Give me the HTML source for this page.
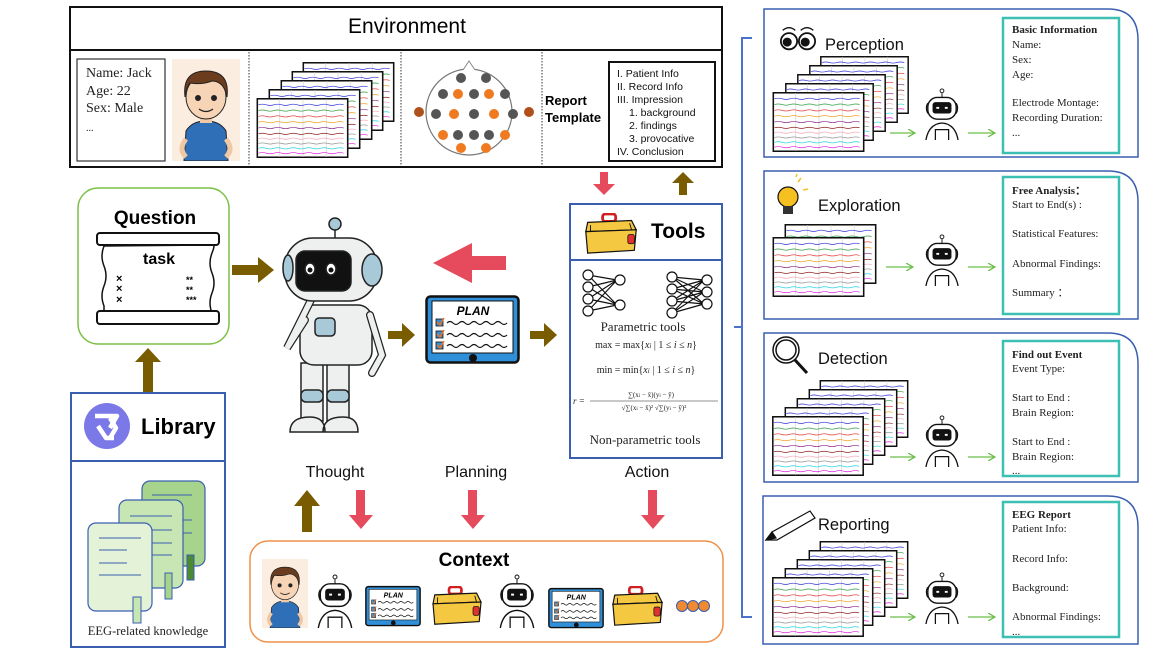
<!DOCTYPE html>
<html><head><meta charset="utf-8"><style>
html,body{margin:0;padding:0;background:#fff}
svg{display:block}
.s{font-family:"Liberation Sans",sans-serif}
.r{font-family:"Liberation Serif",serif}
</style></head><body>
<svg width="1163" height="654" viewBox="0 0 1163 654" xmlns="http://www.w3.org/2000/svg">
<defs>
<g id="wv"><path d="M2,0 q4,-1.2 8,0 t8,0 t8,0 t8,0 t8,0 t8,0 t8,0 t8,0 t8,0 t8,0 t8,0" fill="none" stroke-width="0.7"/></g>
<symbol id="eeg" viewBox="0 0 95 62">
<rect x="0.8" y="0.8" width="93.4" height="60.4" fill="#fff" stroke="#111" stroke-width="1.6"/>
<path d="M24,1V61M48,1V61M72,1V61" stroke="#ccc" stroke-width="0.6"/>
<use href="#wv" y="7" stroke="#2b2bd6"/><use href="#wv" y="13" stroke="#2a9a3a"/><use href="#wv" y="19" stroke="#e02a2a"/><use href="#wv" y="25" stroke="#f0a020"/><use href="#wv" y="31" stroke="#8a2a8a"/><use href="#wv" y="37" stroke="#8b1a1a"/><use href="#wv" y="42" stroke="#f4a0b0"/><use href="#wv" y="47" stroke="#888"/><use href="#wv" y="52" stroke="#20d0e0"/><use href="#wv" y="57" stroke="#e020e0"/>
</symbol>
<symbol id="rob" viewBox="0 0 40 55">
<circle cx="20" cy="3" r="2" fill="#fff" stroke="#111" stroke-width="1"/><path d="M20,5V10" stroke="#111"/>
<rect x="5" y="10" width="30" height="23" rx="10" fill="#fff" stroke="#111" stroke-width="1.5"/>
<path d="M5,16q-3,5 0,11M35,16q3,5 0,11" fill="none" stroke="#111" stroke-width="1.3"/>
<rect x="10" y="15" width="20" height="12" rx="3" fill="#111"/>
<rect x="14" y="20" width="3" height="2" fill="#fff"/><rect x="23" y="20" width="3" height="2" fill="#fff"/>
<path d="M3,55Q6,38 20,37Q34,38 37,55" fill="none" stroke="#111" stroke-width="1.4"/>
<path d="M13,55V44H27V55" fill="none" stroke="#111" stroke-width="1.3"/>
</symbol>
<symbol id="plan" viewBox="0 0 95 72">
<rect x="1.5" y="1.5" width="92" height="66" rx="4" fill="#2f8fd8" stroke="#111" stroke-width="2.5"/>
<rect x="7" y="6" width="81" height="52" fill="#fff" stroke="#111" stroke-width="1"/>
<text x="48" y="20" text-anchor="middle" class="s" font-size="12" font-weight="bold" font-style="italic">PLAN</text>
<g fill="#3a8fd0" stroke="#111" stroke-width="0.8"><rect x="11" y="24" width="7" height="7"/><rect x="11" y="36" width="7" height="7"/><rect x="11" y="47" width="7" height="7"/></g>
<path d="M12,27l3,3l4,-7M12,39l3,3l4,-7M12,50l3,3l4,-7" stroke="#f07020" fill="none" stroke-width="1.5"/>
<path d="M22,28q3,-3 6,0t6,0t6,0t6,0t6,0t6,0t6,0t6,0t6,0t6,0M22,40q3,-3 6,0t6,0t6,0t6,0t6,0t6,0t6,0t6,0t6,0t6,0M22,51q3,-3 6,0t6,0t6,0t6,0t6,0t6,0t6,0t6,0t6,0t6,0" stroke="#111" fill="none" stroke-width="1.2"/>
<circle cx="48" cy="63" r="4" fill="#111"/>
</symbol>
<symbol id="tool" viewBox="0 0 60 45">
<rect x="21" y="1" width="14" height="8" rx="3" fill="none" stroke="#d02020" stroke-width="3"/>
<path d="M5,10L52,8L57,18L3,20Z" fill="#f5c842" stroke="#111" stroke-width="1.3"/>
<path d="M3,20L57,18L55,40L5,43Z" fill="#f5c842" stroke="#111" stroke-width="1.3"/>
<path d="M8,13L8,20M50,11L52,18" stroke="#111"/>
<rect x="48" y="23" width="7" height="10" rx="2" fill="#e03030" stroke="#111" stroke-width="0.8"/>
</symbol>
<symbol id="boy" viewBox="0 0 68 102">
<rect width="68" height="102" fill="#fbeee0"/>
<path d="M12,102L14,72Q20,62 34,62Q48,62 54,72L56,102Z" fill="#2f6fb8" stroke="#222"/>
<path d="M14,80Q6,90 14,98M54,80Q62,90 54,98" stroke="#f1c8a4" stroke-width="5" fill="none"/>
<rect x="28" y="54" width="12" height="10" fill="#f1c8a4"/>
<ellipse cx="34" cy="38" rx="20" ry="22" fill="#f6d4b5" stroke="#222"/>
<path d="M13,38Q10,12 34,12Q58,12 55,38Q52,22 40,22Q30,26 18,24Q14,30 13,38Z" fill="#6b3c1e" stroke="#222"/>
<circle cx="26" cy="39" r="3" fill="#222"/><circle cx="42" cy="39" r="3" fill="#222"/>
<path d="M27,50q7,5 14,0" stroke="#222" fill="none" stroke-width="1.3"/>
</symbol>
<symbol id="eye" viewBox="0 0 40 30">
<circle cx="10" cy="18" r="9" fill="#fff" stroke="#111" stroke-width="2"/><circle cx="8" cy="19" r="5" fill="#111"/>
<circle cx="30" cy="18" r="9" fill="#fff" stroke="#111" stroke-width="2"/><circle cx="28" cy="19" r="5" fill="#111"/>
<path d="M3,6q7,-6 14,0M23,6q7,-6 14,0" stroke="#111" fill="none" stroke-width="1.5"/>
</symbol>
<marker id="ga" markerWidth="8" markerHeight="8" refX="7" refY="4" orient="auto" markerUnits="userSpaceOnUse"><path d="M0,0L7,4L0,8" fill="none" stroke="#6cbf4a" stroke-width="1.3"/></marker>
</defs>

<rect x="70" y="7" width="652" height="160" fill="#fff" stroke="#111" stroke-width="2"/>
<line x1="70" y1="50" x2="722" y2="50" stroke="#111" stroke-width="2"/>
<text x="407" y="33" text-anchor="middle" class="s" font-size="21">Environment</text>
<path d="M249,52V166M401,52V166M542,52V166" stroke="#333" stroke-width="1" stroke-dasharray="1.5,1.5"/>
<rect x="77" y="59" width="88" height="102" fill="#fff" stroke="#333" stroke-width="1.2"/>
<g class="r" font-size="14" fill="#222"><text x="86" y="77">Name: Jack</text><text x="86" y="95">Age: 22</text><text x="86" y="112">Sex: Male</text><text x="86" y="131" font-size="10">...</text></g>
<use href="#boy" x="172" y="59" width="68" height="102"/>
<use href="#eeg" x="301" y="62" width="95" height="60"/>
<use href="#eeg" x="290" y="71" width="95" height="60"/>
<use href="#eeg" x="279" y="80" width="95" height="60"/>
<use href="#eeg" x="267" y="89" width="95" height="60"/>
<use href="#eeg" x="255" y="98" width="95" height="60"/>
<circle cx="469" cy="112" r="43" fill="#fff" stroke="#777" stroke-width="1.2"/>
<path d="M463,70l6,-9l6,9" fill="#fff" stroke="#888"/>
<g fill="#555"><circle cx="461" cy="78" r="5"/><circle cx="486" cy="78" r="5"/>
<circle cx="443" cy="94" r="5"/><circle cx="474" cy="94" r="5"/><circle cx="505" cy="94" r="5"/>
<circle cx="436" cy="114" r="5"/><circle cx="474" cy="114" r="5"/><circle cx="513" cy="114" r="5"/>
<circle cx="458" cy="135" r="5"/><circle cx="474" cy="135" r="5"/><circle cx="489" cy="135" r="5"/></g>
<g fill="#f07a20"><circle cx="458" cy="94" r="5"/><circle cx="489" cy="94" r="5"/><circle cx="454" cy="114" r="5"/><circle cx="494" cy="114" r="5"/><circle cx="443" cy="135" r="5"/><circle cx="505" cy="135" r="5"/><circle cx="461" cy="148" r="5"/><circle cx="486" cy="148" r="5"/></g>
<g fill="#b0501a"><circle cx="419" cy="112" r="5"/><circle cx="529" cy="112" r="5"/></g>
<text x="545" y="105" class="s" font-size="13" font-weight="bold">Report</text>
<text x="545" y="122" class="s" font-size="13" font-weight="bold">Template</text>
<rect x="609" y="62" width="106" height="99" fill="#fff" stroke="#111" stroke-width="2"/>
<g class="s" font-size="10.5" fill="#111"><text x="617" y="77">I. Patient Info</text><text x="617" y="90">II. Record Info</text><text x="617" y="103">III. Impression</text><text x="629" y="116">1. background</text><text x="629" y="129">2. findings</text><text x="629" y="142">3. provocative</text><text x="617" y="155">IV. Conclusion</text></g>

<path d="M600,172h8v12h7l-11,11l-11,-11h7z" fill="#e54b5c"/>
<path d="M679,195v-12h-7l11,-11l11,11h-7v12z" fill="#7a5c00"/>

<rect x="570" y="204" width="152" height="254" fill="#fff" stroke="#3a5fb0" stroke-width="2"/>
<line x1="570" y1="260" x2="722" y2="260" stroke="#3a5fb0" stroke-width="2"/>
<use href="#tool" x="583" y="213" width="56" height="42"/>
<text x="651" y="238" class="s" font-size="21" font-weight="bold">Tools</text>
<g stroke="#111" stroke-width="1.2" fill="none">
<path d="M588,275L617,280M588,275L617,305M588,287L617,280M588,287L617,305M588,299L617,280M588,299L617,305M588,311L617,280M588,311L617,305"/>
<circle cx="588" cy="275" r="5" fill="#fff"/><circle cx="588" cy="287" r="5" fill="#fff"/><circle cx="588" cy="299" r="5" fill="#fff"/><circle cx="588" cy="311" r="5" fill="#fff"/>
<circle cx="620" cy="280" r="5" fill="#fff"/><circle cx="620" cy="305" r="5" fill="#fff"/>
<path d="M672,277L704,280M672,277L704,292M672,277L704,304M672,289L704,280M672,289L704,292M672,289L704,304M672,301L704,280M672,301L704,292M672,301L704,304M672,313L704,280M672,313L704,292M672,313L704,304"/>
<circle cx="672" cy="277" r="5" fill="#fff"/><circle cx="672" cy="289" r="5" fill="#fff"/><circle cx="672" cy="301" r="5" fill="#fff"/><circle cx="672" cy="313" r="5" fill="#fff"/>
<circle cx="707" cy="280" r="5" fill="#fff"/><circle cx="707" cy="292" r="5" fill="#fff"/><circle cx="707" cy="304" r="5" fill="#fff"/>
</g>
<g class="r" fill="#222"><text x="643" y="331" text-anchor="middle" font-size="13">Parametric tools</text>
<text x="646" y="348" text-anchor="middle" font-size="10">max = max{<tspan font-style="italic">x<tspan font-size="7">i</tspan></tspan> | 1 ≤ <tspan font-style="italic">i</tspan> ≤ <tspan font-style="italic">n</tspan>}</text>
<text x="646" y="373" text-anchor="middle" font-size="10">min = min{<tspan font-style="italic">x<tspan font-size="7">i</tspan></tspan> | 1 ≤ <tspan font-style="italic">i</tspan> ≤ <tspan font-style="italic">n</tspan>}</text>
<text x="651" y="397" text-anchor="middle" font-size="7">∑(x<tspan font-size="5">i</tspan> − x̄)(y<tspan font-size="5">i</tspan> − ȳ)</text>
<text x="573" y="404" font-size="9" font-style="italic">r =</text>
<line x1="590" y1="401" x2="718" y2="401" stroke="#222" stroke-width="0.6"/>
<text x="654" y="410" text-anchor="middle" font-size="7">√∑(x<tspan font-size="5">i</tspan> − x̄)² √∑(y<tspan font-size="5">i</tspan> − ȳ)²</text>
<text x="645" y="444" text-anchor="middle" font-size="13">Non-parametric tools</text></g>

<rect x="78" y="188" width="151" height="156" rx="20" fill="#fff" stroke="#7cc046" stroke-width="1.5"/>
<text x="155" y="224" text-anchor="middle" class="s" font-size="19" font-weight="bold">Question</text>
<path d="M104,246q-4,10 0,20t0,20t0,20V313H212q-4,-10 0,-20t0,-20t0,-20t0,-8Z" fill="#fff" stroke="#111" stroke-width="1.5"/>
<rect x="97" y="233" width="122" height="12" rx="3" fill="#fff" stroke="#111" stroke-width="2"/>
<rect x="97" y="311" width="122" height="13" rx="3" fill="#fff" stroke="#111" stroke-width="2"/>
<text x="159" y="264" text-anchor="middle" class="s" font-size="16" font-weight="bold">task</text>
<g class="s" font-size="11" font-weight="bold"><text x="116" y="282">×</text><text x="116" y="292">×</text><text x="116" y="303">×</text><text x="186" y="283" font-size="9">**</text><text x="186" y="293" font-size="9">**</text><text x="186" y="303" font-size="9">***</text></g>

<path d="M232,265h26v-8l16,13l-16,13v-8h-26z" fill="#7a5c00"/>
<path d="M388,331h14v-8l13,12l-13,12v-8h-14z" fill="#7a5c00"/>
<path d="M530,331h14v-8l13,12l-13,12v-8h-14z" fill="#7a5c00"/>
<path d="M143,392v-30h-8l13,-14l13,14h-8v30z" fill="#7a5c00"/>
<path d="M302,532v-26h-8l13,-16l13,16h-8v26z" fill="#7a5c00"/>
<path d="M506,256h-34v-13l-39,20l39,20v-13h34z" fill="#e54b5c"/>
<path d="M356,490h9v25h8l-12,14l-12,-14h7z" fill="#e54b5c"/>
<path d="M468,490h9v25h8l-12,14l-12,-14h7z" fill="#e54b5c"/>
<path d="M648,490h9v25h8l-12,14l-12,-14h7z" fill="#e54b5c"/>

<g stroke="#222" stroke-width="1.5">
<line x1="335" y1="238" x2="335" y2="228"/><circle cx="335" cy="224" r="6" fill="#a8cad8"/>
<path d="M301,363h22v58h-22z M327,363h22v58h-22z" fill="#eef0f0"/>
<rect x="301" y="390" width="22" height="12" rx="5" fill="#a8cad8"/><rect x="327" y="390" width="22" height="12" rx="5" fill="#a8cad8"/>
<path d="M290,432q0,-15 20,-15q15,0 15,15z M323,432q0,-15 20,-15q15,0 15,15z" fill="#eef0f0"/>
<rect x="300" y="305" width="72" height="60" rx="14" fill="#eef0f0"/>
<rect x="315" y="318" width="20" height="18" rx="4" fill="#a8cad8"/>
<path d="M370,315l12,40l-10,18" fill="none" stroke-width="8" stroke-linecap="round"/>
<path d="M370,315l12,40l-10,18" fill="none" stroke="#eef0f0" stroke-width="5.5" stroke-linecap="round"/>
<path d="M305,320l-18,28l25,-50" fill="none" stroke-width="8" stroke-linecap="round"/>
<path d="M305,320l-18,28l25,-50" fill="none" stroke="#eef0f0" stroke-width="5.5" stroke-linecap="round"/>
<rect x="285" y="238" width="92" height="63" rx="28" fill="#eef0f0"/>
<ellipse cx="372" cy="270" rx="10" ry="16" fill="#a8cad8"/>
<ellipse cx="288" cy="268" rx="5" ry="13" fill="#a8cad8"/>
<rect x="296" y="251" width="55" height="40" rx="9" fill="#111"/>
<ellipse cx="310" cy="269" rx="5" ry="6" fill="#fff"/><ellipse cx="331" cy="269" rx="5" ry="6" fill="#fff"/>
</g>
<circle cx="310" cy="270" r="2.5" fill="#111"/><circle cx="331" cy="270" r="2.5" fill="#111"/>

<use href="#plan" x="425" y="295" width="95" height="72"/>

<g class="s" font-size="16" fill="#111"><text x="335" y="477" text-anchor="middle">Thought</text><text x="476" y="477" text-anchor="middle">Planning</text><text x="647" y="477" text-anchor="middle">Action</text></g>

<rect x="71" y="393" width="154" height="254" fill="#fff" stroke="#3a5fb0" stroke-width="2"/>
<line x1="71" y1="461" x2="225" y2="461" stroke="#3a5fb0" stroke-width="2"/>
<circle cx="107" cy="426" r="23" fill="#7b78e8"/>
<path d="M95,416h22l-7,12M98,426l8,12h8M110,418l6,10l-6,10" stroke="#fff" stroke-width="4.5" fill="none" stroke-linejoin="round"/>
<text x="141" y="434" class="s" font-size="22" font-weight="bold">Library</text>
<rect x="142" y="481" width="63" height="85" rx="8" fill="#a7d48c" stroke="#3a5fb0" stroke-width="1.2"/>
<path d="M152,495h40M170,520h22M170,533h22" stroke="#3a5fb0"/>
<rect x="187" y="555" width="7" height="25" fill="#4a8a30" stroke="#3a5fb0"/>
<rect x="119" y="500" width="64" height="88" rx="8" fill="#c8e6b4" stroke="#3a5fb0" stroke-width="1.2"/>
<path d="M130,516h42M150,530h22M150,543h22M150,555h22" stroke="#3a5fb0"/>
<rect x="165" y="573" width="7" height="26" fill="#a7d48c" stroke="#3a5fb0"/>
<rect x="88" y="523" width="64" height="88" rx="8" fill="#e4f2d8" stroke="#3a5fb0" stroke-width="1.2"/>
<path d="M99,538h42M99,550h28M99,563h28M99,575h42" stroke="#3a5fb0"/>
<rect x="133" y="597" width="8" height="26" fill="#c8e6b4" stroke="#3a5fb0"/>
<text x="148" y="635" text-anchor="middle" class="r" font-size="12.5" fill="#222">EEG-related knowledge</text>

<rect x="250" y="541" width="473" height="101" rx="18" fill="#fff" stroke="#f0914a" stroke-width="1.5"/>
<text x="474" y="566" text-anchor="middle" class="s" font-size="19" font-weight="bold">Context</text>
<use href="#boy" x="262" y="559" width="46" height="69"/>
<use href="#rob" x="313" y="574" width="44" height="54"/>
<use href="#plan" x="365" y="585" width="56" height="44"/>
<use href="#tool" x="430" y="586" width="54" height="40"/>
<use href="#rob" x="495" y="574" width="44" height="54"/>
<use href="#plan" x="548" y="587" width="56" height="44"/>
<use href="#tool" x="610" y="586" width="55" height="41"/>
<g fill="#f08a30" stroke="#3a5fb0" stroke-width="1"><circle cx="682" cy="606" r="5.5"/><circle cx="693" cy="606" r="5.5"/><circle cx="704" cy="606" r="5.5"/></g>

<path d="M752,38H742V327H734M742,327V617H752" fill="none" stroke="#4a72c8" stroke-width="2"/>

<g fill="#fff" stroke="#3a5fb0" stroke-width="1.5">
<path d="M764,9H1108Q1138,9 1138,40V157H764Z"/>
<path d="M764,171H1108Q1138,171 1138,202V319H764Z"/>
<path d="M764,333H1108Q1138,333 1138,364V482H764Z"/>
<path d="M763,496H1108Q1138,496 1138,527V644H763Z"/>
</g>
<g fill="#fff" stroke="#3cc0b4" stroke-width="2.5">
<rect x="1003" y="18" width="116" height="135"/><rect x="1003" y="177" width="116" height="137"/><rect x="1003" y="341" width="116" height="135"/><rect x="1003" y="502" width="116" height="135"/>
</g>
<g class="s" font-size="16.5" fill="#111"><text x="825" y="50">Perception</text><text x="818" y="211">Exploration</text><text x="818" y="364">Detection</text><text x="818" y="530">Reporting</text></g>
<use href="#eye" x="780" y="25" width="36" height="27"/>
<g><circle cx="788" cy="197" r="10" fill="#f5c020" stroke="#111" stroke-width="1.2"/><rect x="783" y="206" width="10" height="8" fill="#333"/><path d="M798,182l3,-4M803,190l5,-1M796,177l1,-3" stroke="#f5c020" stroke-width="1.5"/></g>
<g fill="none" stroke="#111" stroke-width="1.5"><circle cx="786" cy="350" r="13"/><circle cx="786" cy="350" r="10"/><path d="M795,360l12,13" stroke-width="3"/></g>
<g stroke="#111" stroke-width="1.2" fill="#fff"><path d="M766,540l6,-8l38,-21l5,7l-38,22z"/><path d="M766,540l6,-8l4,6z" fill="#111"/></g>

<use href="#eeg" x="817" y="56" width="95" height="58"/>
<use href="#eeg" x="806" y="65" width="95" height="58"/>
<use href="#eeg" x="794" y="74" width="95" height="58"/>
<use href="#eeg" x="782" y="83" width="95" height="58"/>
<use href="#eeg" x="771" y="92" width="95" height="60"/>
<use href="#eeg" x="783" y="224" width="95" height="60"/>
<use href="#eeg" x="771" y="237" width="95" height="60"/>
<use href="#eeg" x="817" y="380" width="94" height="58"/>
<use href="#eeg" x="806" y="389" width="94" height="58"/>
<use href="#eeg" x="794" y="398" width="94" height="58"/>
<use href="#eeg" x="782" y="407" width="94" height="58"/>
<use href="#eeg" x="771" y="416" width="94" height="60"/>
<use href="#eeg" x="817" y="541" width="94" height="58"/>
<use href="#eeg" x="806" y="550" width="94" height="58"/>
<use href="#eeg" x="794" y="559" width="94" height="58"/>
<use href="#eeg" x="782" y="568" width="94" height="58"/>
<use href="#eeg" x="771" y="577" width="94" height="60"/>
<use href="#rob" x="922" y="88" width="40" height="52"/>
<use href="#rob" x="922" y="234" width="40" height="52"/>
<use href="#rob" x="922" y="415" width="40" height="52"/>
<use href="#rob" x="922" y="572" width="40" height="52"/>
<g stroke="#6cbf4a" stroke-width="1.3" marker-end="url(#ga)">
<line x1="890" y1="133" x2="915" y2="133"/><line x1="968" y1="133" x2="995" y2="133"/>
<line x1="886" y1="267" x2="913" y2="267"/><line x1="968" y1="267" x2="995" y2="267"/>
<line x1="890" y1="457" x2="915" y2="457"/><line x1="968" y1="457" x2="995" y2="457"/>
<line x1="890" y1="617" x2="915" y2="617"/><line x1="968" y1="617" x2="995" y2="617"/>
</g>
<g class="r" font-size="11" fill="#222">
<text x="1012" y="33" font-weight="bold">Basic Information</text><text x="1012" y="48">Name:</text><text x="1012" y="63">Sex:</text><text x="1012" y="78">Age:</text><text x="1012" y="106">Electrode Montage:</text><text x="1012" y="121">Recording Duration:</text><text x="1012" y="136">...</text>
<text x="1012" y="194" font-weight="bold">Free Analysis：</text><text x="1012" y="208">Start  to  End(s) :</text><text x="1012" y="237">Statistical Features:</text><text x="1012" y="267">Abnormal Findings:</text><text x="1012" y="296">Summary ：</text>
<text x="1012" y="358" font-weight="bold">Find out Event</text><text x="1012" y="372">Event Type:</text><text x="1012" y="401">Start  to End :</text><text x="1012" y="416">Brain Region:</text><text x="1012" y="445">Start  to End :</text><text x="1012" y="460">Brain Region:</text><text x="1012" y="474">...</text>
<text x="1012" y="518" font-weight="bold">EEG Report</text><text x="1012" y="532">Patient Info:</text><text x="1012" y="562">Record Info:</text><text x="1012" y="591">Background:</text><text x="1012" y="620">Abnormal Findings:</text><text x="1012" y="635">...</text>
</g>
</svg>
</body></html>
